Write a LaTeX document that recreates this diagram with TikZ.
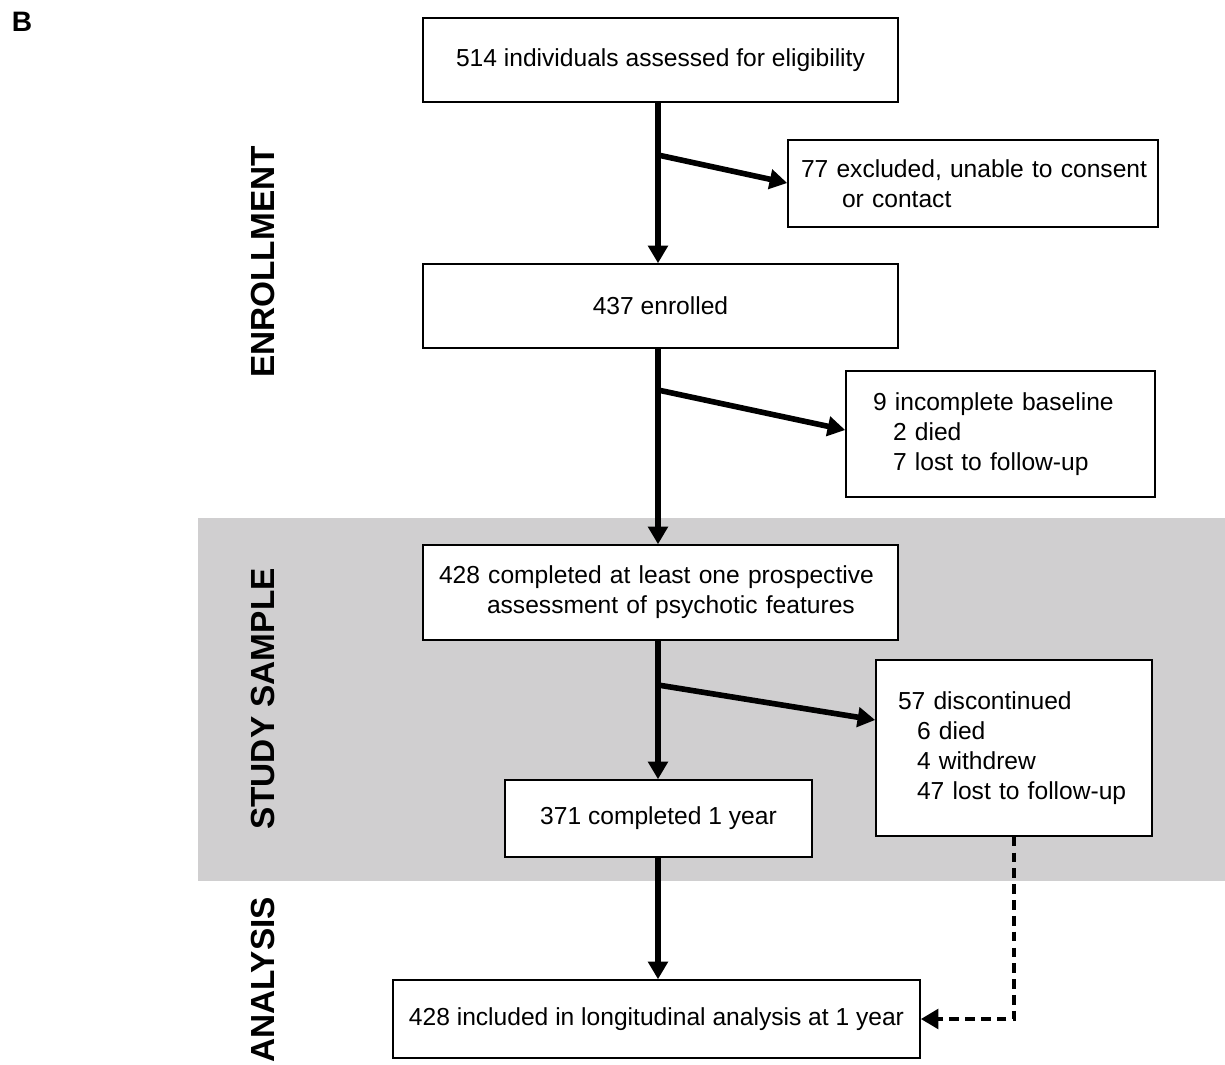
\documentclass[tikz,border=0pt]{standalone}
\usepackage{fontspec}
\setmainfont{Liberation Sans}
\usetikzlibrary{positioning}
\usetikzlibrary{arrows.meta}
\tikzset{>=stealth}
\definecolor{bandgray}{RGB}{208,207,208}
\tikzset{
	% flow boxes
	flowbox/.style={draw=black,line width=0.9pt,fill=white,font=\fontsize{14}{17}\selectfont,align=center},
	sidebox/.style={draw=black,line width=0.9pt,fill=white,font=\fontsize{14}{17}\selectfont,align=left},
	% connectors
	flowarrow/.style={line width=3.2pt,-{Triangle[length=10pt,width=11pt]}},
	dasharrow/.style={line width=2.8pt,dash pattern=on 5.5pt off 3.5pt,-{Triangle[length=10pt,width=11pt]}},
	% stage labels
	stagelabel/.style={rotate=90,font=\fontsize{19}{22}\selectfont\bfseries},
}
\begin{document}
\begin{tikzpicture}
	\useasboundingbox (0,0) rectangle (24.5,-21.3);
	\fill[bandgray] (3.96,-10.36) rectangle (24.5,-17.62);
	
	\node[font=\fontsize{16}{18}\selectfont\bfseries] (panel) at (0.44,-0.44) {B};
	
	\node[stagelabel] (enrollment) at (5.26,-5.24) {ENROLLMENT};
	\node[stagelabel] (studysample) at (5.26,-13.98) {STUDY SAMPLE};
	\node[stagelabel] (analysislabel) at (5.26,-19.6) {ANALYSIS};
	
	\node[flowbox,minimum width=9.5cm,minimum height=1.68cm] (eligible) at (13.21,-1.2) {514 individuals assessed for eligibility};
	\node[sidebox,text width=6.88cm,inner xsep=0.26cm,minimum height=1.74cm] (excluded) at (19.46,-3.67) {\mbox{77 excluded, unable to consent}\\\hspace*{0.82cm}or contact};
	\node[flowbox,minimum width=9.5cm,minimum height=1.68cm] (enrolled) at (13.21,-6.12) {437 enrolled};
	\node[sidebox,text width=5.1cm,inner xsep=0.54cm,minimum height=2.52cm] (incomplete) at (20.01,-8.68) {9 incomplete baseline\\\hspace*{0.4cm}2 died\\\hspace*{0.4cm}7 lost to follow-up};
	\node[flowbox,align=left,text width=8.86cm,inner xsep=0.32cm,minimum height=1.9cm] (sample) at (13.21,-11.85) {428 completed at least one prospective\\\hspace*{0.96cm}assessment of psychotic features};
	\node[sidebox,text width=4.64cm,inner xsep=0.44cm,minimum height=3.52cm] (discontinued) at (20.28,-14.96) {57 discontinued\\\hspace*{0.38cm}6 died\\\hspace*{0.38cm}4 withdrew\\\hspace*{0.38cm}47 lost to follow-up};
	\node[flowbox,minimum width=6.14cm,minimum height=1.54cm] (oneyear) at (13.17,-16.37) {371 completed 1 year};
	\node[flowbox,minimum width=10.54cm,minimum height=1.56cm] (longitudinal) at (13.13,-20.38) {428 included in longitudinal analysis at 1 year};
	
	% branch points on the main line
	\coordinate (branchA) at (13.16,-3.1);
	\coordinate (branchB) at (13.16,-7.8);
	\coordinate (branchC) at (13.16,-13.7);
	
	\draw[flowarrow] (eligible.south -| branchA) -- (enrolled.north -| branchA);
	\draw[flowarrow] (enrolled.south -| branchA) -- (sample.north -| branchA);
	\draw[flowarrow] (sample.south -| branchA) -- (oneyear.north -| branchA);
	\draw[flowarrow] (oneyear.south -| branchA) -- (longitudinal.north -| branchA);
	
	\draw[flowarrow] (branchA) -- ([yshift=0.01cm]excluded.west);
	\draw[flowarrow] (branchB) -- ([yshift=0.08cm]incomplete.west);
	\draw[flowarrow] (branchC) -- ([yshift=0.56cm]discontinued.west);
	
	\draw[dasharrow] (discontinued.south) |- (longitudinal.east);
\end{tikzpicture}
\end{document}
